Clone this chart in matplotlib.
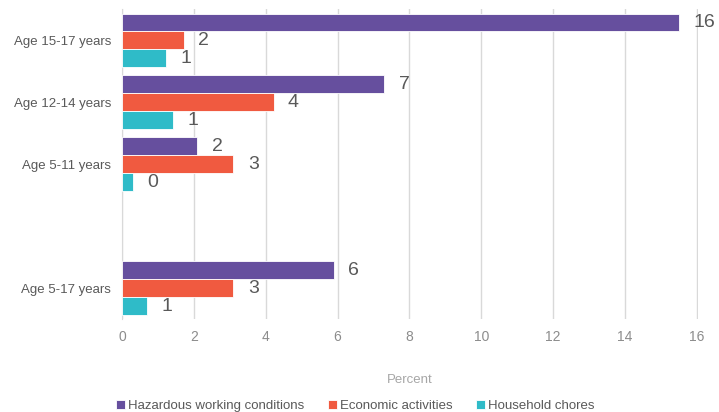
import matplotlib.pyplot as plt
import numpy as np

plt.rcParams['font.family'] = ['Liberation Sans Narrow', 'Liberation Sans', 'DejaVu Sans']

categories = ['Age 15-17 years', 'Age 12-14 years', 'Age 5-11 years', '', 'Age 5-17 years']
hazardous = [15.5, 7.3, 2.1, np.nan, 5.9]
economic = [1.72, 4.22, 3.1, np.nan, 3.1]
household = [1.22, 1.42, 0.3, np.nan, 0.7]

series = [hazardous, economic, household]
labellist = ['Hazardous working conditions', 'Economic activities', 'Household chores']
colorlist = ['#664f9e', '#f05a40', '#2fbbc8']

fig = plt.figure(figsize=(7.19, 4.12), dpi=100)
ax = fig.add_axes([0.1697, 0.225, 0.801, 0.752])

y = np.arange(len(categories))
h = 0.29
for i, vals in enumerate(series):
    pos = y + (i - 1) * h
    ax.barh(pos, vals, height=h, color=colorlist[i], label=labellist[i],
            edgecolor='white', lw=0.6, zorder=3)
    for p, v in zip(pos, vals):
        if np.isnan(v):
            continue
        ax.text(v + 0.4, p, f'{v:.0f}', va='center', ha='left',
                fontsize=14, color='#595959')

ax.set_yticks(y)
ax.set_yticklabels(categories, fontsize=9.5, color='#595959')
ax.set_ylim(4.5, -0.5)
ax.set_xlim(0, 16.03)
ax.set_xticks(np.arange(0, 17, 2))
ax.tick_params(axis='x', labelsize=10, colors='#8c8c8c', length=0, pad=8)
ax.tick_params(axis='y', length=0, pad=8)
ax.grid(axis='x', color='#d9d9d9', lw=1, zorder=0)
for s in ['top', 'right', 'bottom']:
    ax.spines[s].set_visible(False)
ax.spines['left'].set_color('#d9d9d9')
ax.set_xlabel('Percent', fontsize=9.5, color='#a6a6a6', labelpad=21)

fig.legend(loc='center', bbox_to_anchor=(0.494, 0.015), ncol=3, frameon=False,
           fontsize=9.5, handlelength=0.7, handleheight=0.7, handletextpad=0.2,
           columnspacing=1.8, labelcolor='#595959')

plt.savefig('out.png', dpi=100)
